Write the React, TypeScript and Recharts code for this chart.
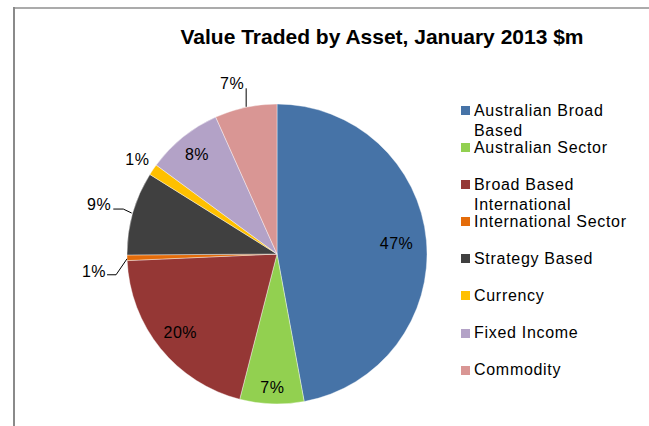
import { PieChart, Pie, Cell, Legend } from "recharts";

// Value traded, $m
const categories = [
  "Australian Broad Based",
  "Australian Sector",
  "Broad Based International",
  "International Sector",
  "Strategy Based",
  "Currency",
  "Fixed Income",
  "Commodity",
];
const values = [47.1, 6.9, 20.3, 0.6, 9.0, 1.2, 8.2, 6.7];
const colors = ["#4673A7", "#92D050", "#953735", "#E46C0A", "#404040", "#FFC000", "#B3A2C7", "#D99694"];

const FONT = "'Liberation Sans', Arial, sans-serif";
const RAD = Math.PI / 180;

// how each slice's label is placed: inside at a fraction of the radius,
// or outside with a leader line drawn from the slice edge
type LabelLayout =
  | { kind: "inside"; r: number }
  | { kind: "outside"; line: [number, number][]; text: [number, number] };

const labelLayout: LabelLayout[] = [
  { kind: "inside", r: 0.8 },
  { kind: "inside", r: 0.89 },
  { kind: "inside", r: 0.83 },
  { kind: "outside", line: [[0, 1], [-11, 17], [-20, 17]], text: [-21, 19] },
  { kind: "outside", line: [[-1, 0], [-9.4, -4], [-19.4, -4]], text: [-21.5, -3] },
  { kind: "outside", line: [], text: [-3.5, -4.5] },
  { kind: "inside", r: 0.85 },
  { kind: "outside", line: [[0.5, -0.5], [0.5, -19]], text: [-1.5, -18.5] },
];

const data = categories.map((name, i) => ({ name, value: values[i] }));

const renderLabel = (props: any) => {
  const { cx, cy, midAngle, outerRadius, percent, index } = props;
  const txt = `${Math.round(percent * 100)}%`;
  const layout = labelLayout[index];
  const style = { fontSize: 16, fontFamily: FONT, fill: "#000", letterSpacing: 0.5 };
  if (layout.kind === "inside") {
    const r = outerRadius * layout.r;
    const x = cx + r * Math.cos(-midAngle * RAD);
    const y = cy + r * Math.sin(-midAngle * RAD);
    return (
      <text key={`l-${index}`} x={x} y={y} textAnchor="middle" dominantBaseline="central" style={style}>
        {txt}
      </text>
    );
  }
  const ex = cx + outerRadius * Math.cos(-midAngle * RAD);
  const ey = cy + outerRadius * Math.sin(-midAngle * RAD);
  const pts = layout.line.map(([dx, dy]) => `${ex + dx},${ey + dy}`).join(" ");
  return (
    <g key={`l-${index}`}>
      {layout.line.length > 0 && <polyline points={pts} fill="none" stroke="#000" strokeWidth={1} />}
      <text x={ex + layout.text[0]} y={ey + layout.text[1]} textAnchor="end" style={style}>
        {txt}
      </text>
    </g>
  );
};

// legend keeps the series order (recharts sorts by name otherwise)
const renderLegend = (props: any) => {
  const payload = [...(props.payload || [])].sort(
    (a: any, b: any) => categories.indexOf(a.value) - categories.indexOf(b.value)
  );
  return (
    <div style={{ fontFamily: FONT, fontSize: 16, letterSpacing: 0.7, color: "#000" }}>
      {payload.map((entry: any, i: number) => (
        <div key={`leg-${i}`} style={{ position: "relative", height: 37.1 }}>
          <div
            style={{
              position: "absolute", left: 0, top: 5.5, width: 9, height: 9,
              background: entry.color,
            }}
          />
          <div style={{ position: "absolute", left: 13, top: 0, width: 165, lineHeight: "20px" }}>
            {entry.value}
          </div>
        </div>
      ))}
    </div>
  );
};

export default function App() {
  return (
    <div style={{ position: "fixed", left: 0, top: 0, width: 649, height: 426, background: "#fff", overflow: "hidden" }}>
      {/* chart area frame: only its top and left edges fall inside the crop */}
      <div style={{ position: "absolute", left: 13, top: 7, width: 636, height: 2, background: "#ababab" }} />
      <div style={{ position: "absolute", left: 13, top: 7, width: 1.5, height: 419, background: "#8a8a8a" }} />
      <div
        style={{
          position: "absolute", left: 130, top: 25, width: 504, textAlign: "center",
          fontFamily: FONT, fontWeight: "bold", fontSize: 21, color: "#000", whiteSpace: "nowrap",
        }}
      >
        Value Traded by Asset, January 2013 $m
      </div>
      <PieChart
        width={649}
        height={426}
        margin={{ top: 0, right: 0, bottom: 0, left: 0 }}
        style={{ position: "absolute", left: 0, top: 0 }}
      >
        <Pie
          data={data}
          dataKey="value"
          nameKey="name"
          cx={277}
          cy={254}
          outerRadius={150}
          startAngle={90}
          endAngle={-270}
          stroke="#ffffff"
          strokeWidth={0.4}
          label={renderLabel}
          labelLine={false}
          isAnimationActive={false}
        >
          {data.map((d, i) => (
            <Cell key={d.name} fill={colors[i]} />
          ))}
        </Pie>
        <Legend
          layout="vertical"
          content={renderLegend}
          wrapperStyle={{ position: "absolute", left: 461, top: 100.5, width: 185 }}
        />
      </PieChart>
    </div>
  );
}
